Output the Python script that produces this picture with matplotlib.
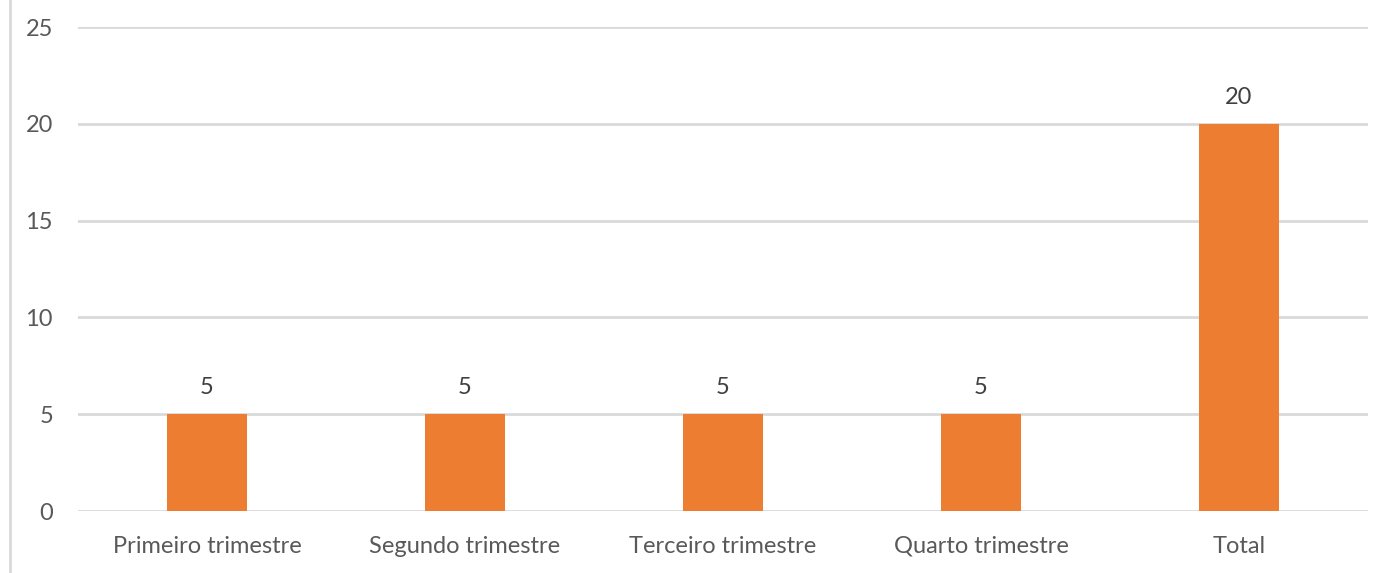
import matplotlib.pyplot as plt
from matplotlib.lines import Line2D

# data
categories = ['Primeiro trimestre', 'Segundo trimestre', 'Terceiro trimestre',
              'Quarto trimestre', 'Total']
values = [5, 5, 5, 5, 20]
yticks = [0, 5, 10, 15, 20, 25]

plt.rcParams['font.family'] = ['Lato', 'DejaVu Sans']

W, H = 1395, 573
fig = plt.figure(figsize=(W / 100, H / 100), dpi=100)
ax = fig.add_axes([78 / W, 62 / H, (1368 - 78) / W, (511 - 27) / H])

x = range(len(categories))
bars = ax.bar(x, values, width=0.31, color='#ED7D31', zorder=3)

for b, v in zip(bars, values):
    ax.annotate(str(v), (b.get_x() + b.get_width() / 2, v),
                xytext=(0, 19), textcoords='offset points',
                ha='center', va='center', fontsize=17, color='#404040')

ax.set_xlim(-0.5, len(categories) - 0.5)
ax.set_ylim(0, 25)
ax.set_yticks(yticks)
ax.set_xticks(list(x))
ax.set_xticklabels(categories)
ax.grid(axis='y', color='#D9D9D9', linewidth=2, zorder=0)
ax.tick_params(axis='both', length=0, labelsize=17, labelcolor='#595959')
ax.tick_params(axis='y', pad=18)
ax.tick_params(axis='x', pad=18)
for s in ax.spines.values():
    s.set_visible(False)

# light border at the left edge
fig.add_artist(Line2D([10 / W, 10 / W], [0, 1], transform=fig.transFigure,
                      color='#D9D9D9', linewidth=2))

fig.savefig('out.png', dpi=100)
